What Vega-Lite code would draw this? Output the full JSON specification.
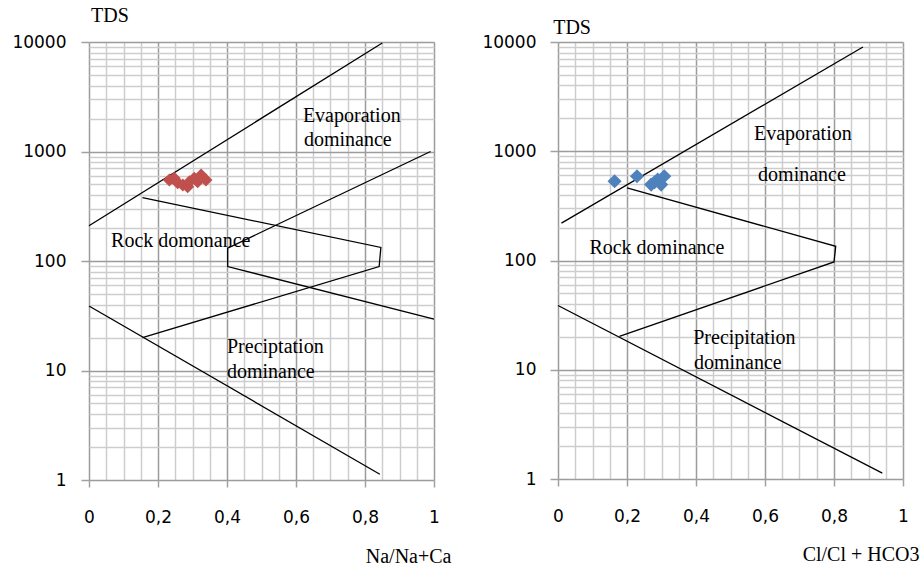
{
  "$schema": "https://vega.github.io/schema/vega-lite/v6.json",
  "padding": {"left": 11, "top": 6, "right": 2, "bottom": 2},
  "background": "white",
  "bounds": "flush",
  "spacing": 124,
  "config": {
    "view": {"stroke": null},
    "axis": {"titleFont": "Liberation Serif", "titleFontWeight": "normal", "titleFontSize": 20, "titleColor": "black"}
  },
  "datasets": {
    "linesL": [
      {"g": "A", "o": 1, "x": 0, "y": 210}, {"g": "A", "o": 2, "x": 0.85, "y": 9800},
      {"g": "B", "o": 1, "x": 0.99, "y": 1000}, {"g": "B", "o": 2, "x": 0.402, "y": 131}, {"g": "B", "o": 3, "x": 0.402, "y": 89}, {"g": "B", "o": 4, "x": 1.0, "y": 29.4},
      {"g": "C", "o": 1, "x": 0, "y": 38.8}, {"g": "C", "o": 2, "x": 0.843, "y": 1.13},
      {"g": "D", "o": 1, "x": 0.155, "y": 379}, {"g": "D", "o": 2, "x": 0.846, "y": 133}, {"g": "D", "o": 3, "x": 0.841, "y": 89}, {"g": "D", "o": 4, "x": 0.155, "y": 20}
    ],
    "ptsL": [
      {"x": 0.233, "y": 550}, {"x": 0.247, "y": 569}, {"x": 0.257, "y": 519}, {"x": 0.272, "y": 494}, {"x": 0.286, "y": 477},
      {"x": 0.291, "y": 530}, {"x": 0.305, "y": 569}, {"x": 0.315, "y": 530}, {"x": 0.325, "y": 610}, {"x": 0.339, "y": 550}
    ],
    "txtL": [
      {"x": 0.006, "y": 15200, "t": "TDS"},
      {"x": 0.62, "y": 1860, "t": "Evaporation"},
      {"x": 0.623, "y": 1122, "t": "dominance"},
      {"x": 0.064, "y": 134, "t": "Rock domonance"},
      {"x": 0.40, "y": 14.5, "t": "Preciptation"},
      {"x": 0.40, "y": 8.5, "t": "dominance"}
    ],
    "linesR": [
      {"g": "A", "o": 1, "x": 0.01, "y": 220}, {"g": "A", "o": 2, "x": 0.884, "y": 9000},
      {"g": "B", "o": 1, "x": 0.20, "y": 461}, {"g": "B", "o": 2, "x": 0.805, "y": 135}, {"g": "B", "o": 3, "x": 0.80, "y": 97}, {"g": "B", "o": 4, "x": 0.178, "y": 20.2},
      {"g": "C", "o": 1, "x": 0, "y": 38.7}, {"g": "C", "o": 2, "x": 0.94, "y": 1.13}
    ],
    "ptsR": [
      {"x": 0.164, "y": 531}, {"x": 0.229, "y": 590}, {"x": 0.27, "y": 495}, {"x": 0.289, "y": 550},
      {"x": 0.299, "y": 495}, {"x": 0.308, "y": 590}, {"x": 0.28, "y": 520}
    ],
    "txtR": [
      {"x": -0.014, "y": 11840, "t": "TDS"},
      {"x": 0.568, "y": 1260, "t": "Evaporation"},
      {"x": 0.58, "y": 531, "t": "dominance"},
      {"x": 0.091, "y": 114, "t": "Rock dominance"},
      {"x": 0.392, "y": 17.1, "t": "Precipitation"},
      {"x": 0.394, "y": 10.1, "t": "dominance"}
    ]
  },
  "hconcat": [
    {
      "width": 345,
      "height": 438,
      "encoding": {
        "x": {
          "field": "x", "type": "quantitative",
          "scale": {"domain": [0, 1], "nice": false, "zero": false},
          "axis": {
            "values": [0, 0.05, 0.1, 0.15, 0.2, 0.25, 0.3, 0.35, 0.4, 0.45, 0.5, 0.55, 0.6, 0.65, 0.7, 0.75, 0.8, 0.85, 0.9, 0.95, 1],
            "labelExpr": "round(datum.value*20) % 4 == 0 ? replace(format(datum.value, '~g'), '.', ',') : ''",
            "labelOverlap": false, "labelFlush": false,
            "labelFont": "DejaVu Sans", "labelFontSize": 17, "labelColor": "black", "labelPadding": 22,
            "domain": false, "tickSize": 7, "tickWidth": 1.5,
            "tickColor": {"condition": {"test": "round(datum.value*20) % 4 == 0", "value": "#a0a0a0"}, "value": "transparent"},
            "grid": true, "gridWidth": 1.5,
            "gridColor": {"condition": {"test": "round(datum.value*20) % 4 == 0", "value": "#9c9c9c"}, "value": "#cdcdcd"},
            "title": "Na/Na+Ca", "titleFont": "Liberation Serif", "titleFontSize": 20, "titleFontWeight": "normal", "titleColor": "black",
            "titleAlign": "right", "titleBaseline": "alphabetic", "titleAnchor": "start", "titleX": 362, "titleY": 82
          }
        },
        "y": {
          "field": "y", "type": "quantitative",
          "scale": {"type": "log", "domain": [1, 10000], "nice": false},
          "axis": {
            "values": [1, 2, 3, 4, 5, 6, 7, 8, 9, 10, 20, 30, 40, 50, 60, 70, 80, 90, 100, 200, 300, 400, 500, 600, 700, 800, 900, 1000, 2000, 3000, 4000, 5000, 6000, 7000, 8000, 9000, 10000],
            "format": "d",
            "labelExpr": "indexof([1, 10, 100, 1000, 10000], datum.value) >= 0 ? datum.label : ''",
            "labelOverlap": false, "labelFlush": false,
            "labelFont": "DejaVu Sans", "labelFontSize": 17, "labelColor": "black", "labelPadding": 15,
            "domain": false, "tickSize": 8, "tickWidth": 1.5,
            "tickColor": {"condition": {"test": "indexof([1, 10, 100, 1000, 10000], datum.value) >= 0", "value": "#a0a0a0"}, "value": "transparent"},
            "grid": true, "gridWidth": 1.5,
            "gridColor": {"condition": {"test": "indexof([1, 10, 100, 1000, 10000], datum.value) >= 0", "value": "#9c9c9c"}, "value": "#cdcdcd"},
            "title": null
          }
        }
      },
      "layer": [
        {
          "data": {"name": "linesL"},
          "mark": {"type": "line", "color": "black", "strokeWidth": 1.3},
          "encoding": {"detail": {"field": "g"}, "order": {"field": "o"}}
        },
        {
          "data": {"name": "ptsL"},
          "mark": {"type": "point", "shape": "diamond", "filled": true, "size": 170, "color": "#C0504D", "opacity": 1}
        },
        {
          "data": {"name": "txtL"},
          "mark": {"type": "text", "font": "Liberation Serif", "fontSize": 20, "align": "left", "baseline": "alphabetic", "color": "black"},
          "encoding": {"text": {"field": "t"}}
        }
      ]
    },
    {
      "width": 345,
      "height": 437,
      "encoding": {
        "x": {
          "field": "x", "type": "quantitative",
          "scale": {"domain": [0, 1], "nice": false, "zero": false},
          "axis": {
            "values": [0, 0.05, 0.1, 0.15, 0.2, 0.25, 0.3, 0.35, 0.4, 0.45, 0.5, 0.55, 0.6, 0.65, 0.7, 0.75, 0.8, 0.85, 0.9, 0.95, 1],
            "labelExpr": "round(datum.value*20) % 4 == 0 ? replace(format(datum.value, '~g'), '.', ',') : ''",
            "labelOverlap": false, "labelFlush": false,
            "labelFont": "DejaVu Sans", "labelFontSize": 17, "labelColor": "black", "labelPadding": 22,
            "domain": false, "tickSize": 7, "tickWidth": 1.5,
            "tickColor": {"condition": {"test": "round(datum.value*20) % 4 == 0", "value": "#a0a0a0"}, "value": "transparent"},
            "grid": true, "gridWidth": 1.5,
            "gridColor": {"condition": {"test": "round(datum.value*20) % 4 == 0", "value": "#9c9c9c"}, "value": "#cdcdcd"},
            "title": "Cl/Cl + HCO3", "titleFont": "Liberation Serif", "titleFontSize": 20, "titleFontWeight": "normal", "titleColor": "black",
            "titleAlign": "right", "titleBaseline": "alphabetic", "titleAnchor": "start", "titleX": 361, "titleY": 81
          }
        },
        "y": {
          "field": "y", "type": "quantitative",
          "scale": {"type": "log", "domain": [1, 10000], "nice": false},
          "axis": {
            "values": [1, 2, 3, 4, 5, 6, 7, 8, 9, 10, 20, 30, 40, 50, 60, 70, 80, 90, 100, 200, 300, 400, 500, 600, 700, 800, 900, 1000, 2000, 3000, 4000, 5000, 6000, 7000, 8000, 9000, 10000],
            "format": "d",
            "labelExpr": "indexof([1, 10, 100, 1000, 10000], datum.value) >= 0 ? datum.label : ''",
            "labelOverlap": false, "labelFlush": false,
            "labelFont": "DejaVu Sans", "labelFontSize": 17, "labelColor": "black", "labelPadding": 14,
            "domain": false, "tickSize": 8, "tickWidth": 1.5,
            "tickColor": {"condition": {"test": "indexof([1, 10, 100, 1000, 10000], datum.value) >= 0", "value": "#a0a0a0"}, "value": "transparent"},
            "grid": true, "gridWidth": 1.5,
            "gridColor": {"condition": {"test": "indexof([1, 10, 100, 1000, 10000], datum.value) >= 0", "value": "#9c9c9c"}, "value": "#cdcdcd"},
            "title": null
          }
        }
      },
      "layer": [
        {
          "data": {"name": "linesR"},
          "mark": {"type": "line", "color": "black", "strokeWidth": 1.3},
          "encoding": {"detail": {"field": "g"}, "order": {"field": "o"}}
        },
        {
          "data": {"name": "ptsR"},
          "mark": {"type": "point", "shape": "diamond", "filled": true, "size": 200, "color": "#4F81BD", "opacity": 1}
        },
        {
          "data": {"name": "txtR"},
          "mark": {"type": "text", "font": "Liberation Serif", "fontSize": 20, "align": "left", "baseline": "alphabetic", "color": "black"},
          "encoding": {"text": {"field": "t"}}
        }
      ]
    }
  ]
}
